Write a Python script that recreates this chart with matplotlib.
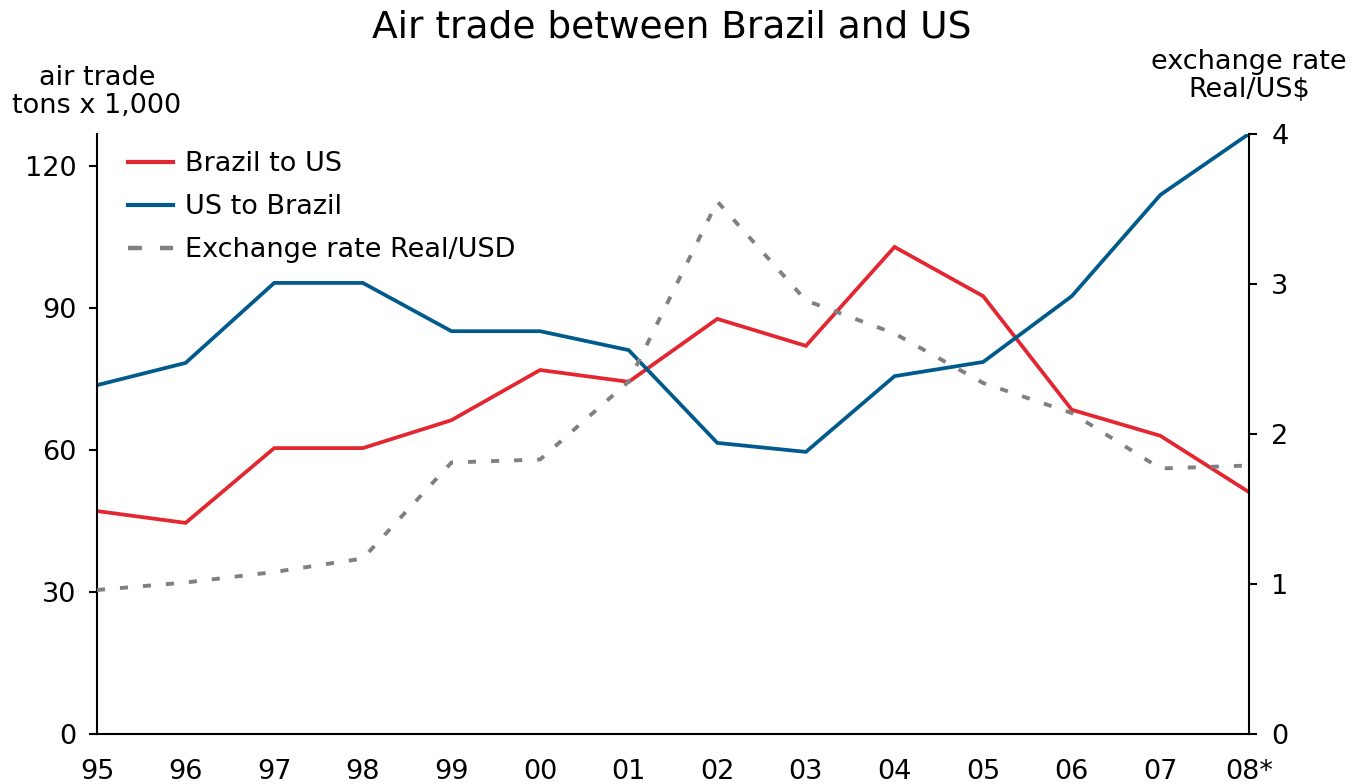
import matplotlib
matplotlib.use("Agg")
import matplotlib.pyplot as plt
from matplotlib.lines import Line2D

plt.rcParams['font.family'] = ['DejaVu Sans']
plt.rcParams['lines.scale_dashes'] = False

years = ["95", "96", "97", "98", "99", "00", "01", "02", "03", "04", "05", "06", "07", "08*"]
brazil_to_us = [47.1, 44.6, 60.4, 60.4, 66.3, 76.9, 74.4, 87.7, 82.0, 102.9, 92.5, 68.5, 63.0, 51.1]
us_to_brazil = [73.7, 78.4, 95.3, 95.3, 85.1, 85.1, 81.1, 61.5, 59.6, 75.6, 78.6, 92.5, 113.9, 126.8]
exchange_rate = [0.96, 1.01, 1.08, 1.17, 1.81, 1.83, 2.35, 3.55, 2.89, 2.67, 2.34, 2.14, 1.77, 1.79]

RED = "#E3262F"
BLUE = "#005A8C"
GREY = "#808080"

W, H = 1350, 784
fig = plt.figure(figsize=(W / 100, H / 100), dpi=100)
ax = fig.add_axes([97 / W, (H - 734) / H, (1249 - 97) / W, (734 - 134) / H])
ax2 = ax.twinx()

x = list(range(len(years)))
ax.plot(x, brazil_to_us, color=RED, lw=2.7, solid_joinstyle='miter')
ax.plot(x, us_to_brazil, color=BLUE, lw=2.7, solid_joinstyle='miter')
ax2.plot(x, exchange_rate, color=GREY, lw=2.8, dashes=(5.8, 10.8))

ax.set_xlim(0, len(years) - 1)
ax.set_ylim(0, 600 / 142 * 30)
ax2.set_ylim(0, 4)
ax.set_yticks([0, 30, 60, 90, 120])
ax2.set_yticks([0, 1, 2, 3, 4])
ax.set_xticks(x)
ax.set_xticklabels(years)

for a in (ax, ax2):
    a.spines['top'].set_visible(False)
    for s in a.spines.values():
        s.set_linewidth(1.5)
        s.set_color('black')
ax2.spines['left'].set_visible(False)
ax.spines['right'].set_visible(False)
ax2.spines['bottom'].set_visible(False)

FS = 19.5
ax.tick_params(axis='x', length=0, pad=18, labelsize=FS)
ax.tick_params(axis='y', length=6, width=1.5, pad=9, labelsize=FS, direction='out')
ax2.tick_params(axis='y', length=6, width=1.5, pad=10, labelsize=FS, direction='out')

fig.text(672 / W, 1 - 27 / H, "Air trade between Brazil and US", ha='center', va='center', fontsize=27)
fig.text(97 / W, 1 - 92 / H, "air trade\ntons x 1,000", ha='center', va='center', fontsize=FS, linespacing=1.1)
fig.text(1249 / W, 1 - 76 / H, "exchange rate\nReal/US$", ha='center', va='center', fontsize=FS, linespacing=1.1)

handles = [
    Line2D([], [], color=RED, lw=3),
    Line2D([], [], color=BLUE, lw=3),
    Line2D([], [], color=GREY, lw=3.2, dashes=(10, 13)),
]
labels = ["Brazil to US", "US to Brazil", "Exchange rate Real/USD"]
leg = ax2.legend(handles, labels, loc='upper left', bbox_to_anchor=(0.027, 0.971),
                 frameon=False, fontsize=FS, handlelength=1.67, handletextpad=0.44,
                 labelspacing=0.62, borderpad=0, borderaxespad=0)

fig.savefig("out.png", dpi=100)
